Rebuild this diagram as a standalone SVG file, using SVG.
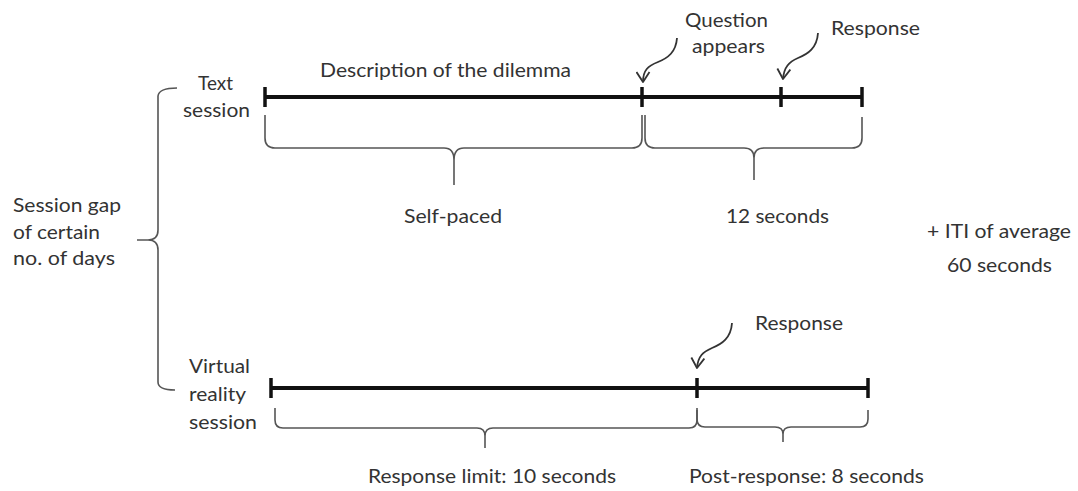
<svg xmlns="http://www.w3.org/2000/svg" width="1078" height="491" viewBox="0 0 1078 491">
<style>
text{font-family:Lato,"Liberation Sans",Arial,sans-serif;font-size:20px;fill:#333}
.tl{stroke:#111;stroke-width:4;fill:none}
.tick{stroke:#111;stroke-width:3.5;fill:none}
.brace{stroke:#555;stroke-width:1.6;fill:none;stroke-linejoin:round}
.arr{stroke:#333;stroke-width:1.8;fill:none;marker-end:url(#vh)}
</style>
<defs>
<marker id="vh" markerUnits="userSpaceOnUse" markerWidth="12" markerHeight="15" viewBox="0 0 12 15" refX="11" refY="7.5" orient="auto">
<path d="M1,1 L11,7.5 L1,14" fill="none" stroke="#333" stroke-width="1.8" stroke-linejoin="round"/>
</marker>
</defs>
<rect width="1078" height="491" fill="#fff"/>

<g id="text-session">
<text x="198" y="90" textLength="35" lengthAdjust="spacingAndGlyphs">Text</text>
<text x="183" y="117" textLength="67" lengthAdjust="spacingAndGlyphs">session</text>
<line class="tl" x1="265" y1="97" x2="862" y2="97"/>
<line class="tick" x1="265" y1="87" x2="265" y2="107"/>
<line class="tick" x1="642" y1="87" x2="642" y2="107"/>
<line class="tick" x1="781" y1="87" x2="781" y2="107"/>
<line class="tick" x1="862" y1="87" x2="862" y2="107"/>
</g>
<g id="description">
<text x="320" y="77" textLength="251" lengthAdjust="spacingAndGlyphs">Description of the dilemma</text>
</g>
<g id="question-appears">
<text x="685" y="27" textLength="83" lengthAdjust="spacingAndGlyphs">Question</text>
<text x="692" y="53" textLength="73" lengthAdjust="spacingAndGlyphs">appears</text>
</g>
<g id="response-text">
<text x="831" y="35" textLength="89" lengthAdjust="spacingAndGlyphs">Response</text>
</g>
<g id="self-paced">
<path class="brace" d="M265,115 L265,138 Q265,148 275,148 L444,148 Q454,148 454,160 L454,185 M454,160 Q454,148 464,148 L632,148 Q642,148 642,138 L642,115"/>
<text x="404" y="223" textLength="98" lengthAdjust="spacingAndGlyphs">Self-paced</text>
</g>
<g id="twelve-seconds">
<path class="brace" d="M645,115 L645,138 Q645,148 655,148 L744,148 Q754,148 754,158 L754,180 M754,158 Q754,148 764,148 L852,148 Q862,148 862,138 L862,117"/>
<text x="726" y="223" textLength="103" lengthAdjust="spacingAndGlyphs">12 seconds</text>
</g>
<g id="iti">
<text x="927" y="238" textLength="144" lengthAdjust="spacingAndGlyphs">+ ITI of average</text>
<text x="947" y="272" textLength="105" lengthAdjust="spacingAndGlyphs">60 seconds</text>
</g>
<g id="session-gap">
<path class="brace" d="M177,88 Q159,88 158,96 L158,230 Q158,240 148,240 L137,240 M148,240 Q158,240 158,250 L158,382 Q158,390 175,390"/>
<text x="13" y="212" textLength="108" lengthAdjust="spacingAndGlyphs">Session gap</text>
<text x="13" y="239" textLength="87" lengthAdjust="spacingAndGlyphs">of certain</text>
<text x="13" y="265" textLength="102" lengthAdjust="spacingAndGlyphs">no. of days</text>
</g>
<g id="vr-session">
<text x="189" y="373" textLength="61" lengthAdjust="spacingAndGlyphs">Virtual</text>
<text x="189" y="401" textLength="57" lengthAdjust="spacingAndGlyphs">reality</text>
<text x="189" y="429" textLength="68" lengthAdjust="spacingAndGlyphs">session</text>
<line class="tl" x1="271" y1="388" x2="868" y2="388"/>
<line class="tick" x1="271" y1="378" x2="271" y2="398"/>
<line class="tick" x1="697" y1="378" x2="697" y2="398"/>
<line class="tick" x1="868" y1="378" x2="868" y2="398"/>
</g>
<g id="vr-response">
<text x="755" y="330" textLength="88" lengthAdjust="spacingAndGlyphs">Response</text>
</g>
<g id="response-limit">
<path class="brace" d="M275,408 L275,420 Q275,428 283,428 L477,428 Q485,428 485,436 L485,448 M485,436 Q485,428 493,428 L689,428 Q697,428 697,420 L697,408"/>
<text x="368" y="483" textLength="248" lengthAdjust="spacingAndGlyphs">Response limit: 10 seconds</text>
</g>
<g id="post-response">
<path class="brace" d="M697,410 L697,419 Q697,427 705,427 L775,427 Q783,427 783,434 L783,442 M783,434 Q783,427 791,427 L860,427 Q868,427 868,419 L868,410"/>
<text x="689" y="483" textLength="235" lengthAdjust="spacingAndGlyphs">Post-response: 8 seconds</text>
</g>
<g id="connectors">
<path class="arr" d="M677,38 C676,52 668,58 658,62 C648,66 643,70 643,82"/>
<path class="arr" d="M818,33 C817,48 808,54 798,58 C789,62 784,67 783,79"/>
<path class="arr" d="M732,323 C731,338 722,344 712,348 C703,352 698,356 697,368"/>
</g>
</svg>
